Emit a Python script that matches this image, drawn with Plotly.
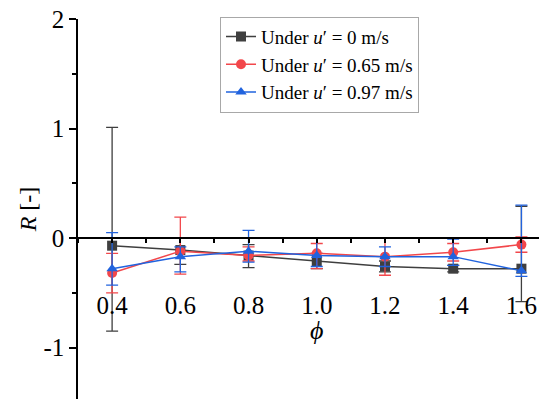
import plotly.graph_objects as go

phi = [0.4, 0.6, 0.8, 1.0, 1.2, 1.4, 1.6]

# Under u' = 0 m/s
r0 = [-0.07, -0.11, -0.16, -0.21, -0.26, -0.28, -0.28]
r0_plus = [1.08, 0.11, 0.10, 0.07, 0.05, 0.03, 0.57]
r0_minus = [0.78, 0.13, 0.11, 0.07, 0.05, 0.03, 0.30]

# Under u' = 0.65 m/s
r1 = [-0.32, -0.12, -0.16, -0.14, -0.17, -0.13, -0.06]
r1_plus = [0.18, 0.31, 0.08, 0.09, 0.17, 0.08, 0.07]
r1_minus = [0.18, 0.21, 0.05, 0.14, 0.17, 0.08, 0.07]

# Under u' = 0.97 m/s
r2 = [-0.28, -0.17, -0.12, -0.16, -0.17, -0.17, -0.30]
r2_plus = [0.33, 0.09, 0.19, 0.16, 0.09, 0.16, 0.60]
r2_minus = [0.15, 0.14, 0.10, 0.10, 0.09, 0.08, 0.05]

names = ["Under <i>u</i>′ = 0 m/s", "Under <i>u</i>′ = 0.65 m/s", "Under <i>u</i>′ = 0.97 m/s"]
colors = ["#3f3f3f", "#f2474b", "#2163de"]
symbols = ["square", "circle", "triangle-up"]

FONT = "Liberation Serif"

fig = go.Figure()
for y, ep, em, name, c, s in zip([r0, r1, r2], [r0_plus, r1_plus, r2_plus],
                                  [r0_minus, r1_minus, r2_minus], names, colors, symbols):
    fig.add_trace(go.Scatter(
        x=phi, y=y, name=name, mode="lines+markers",
        line=dict(color=c, width=1.5),
        marker=dict(symbol=s, size=10, color=c),
        error_y=dict(type="data", symmetric=False, array=ep, arrayminus=em,
                     color=c, thickness=1.3, width=6),
    ))

# page body adds an 8 px offset, so the figure is 8 px smaller and shifted
ymin, ymax = -1.47, 2.0
fig.update_layout(
    width=539, height=391,
    margin=dict(l=70, r=0, t=11, b=0, autoexpand=False),
    paper_bgcolor="white", plot_bgcolor="white",
    font=dict(family=FONT, color="black"),
    showlegend=True,
    legend=dict(x=(220 - 78) / 469, y=1.006, xanchor="left", yanchor="top",
                bgcolor="white", bordercolor="#a8a8a8", borderwidth=1,
                font=dict(family=FONT, size=19, color="black"),
                tracegroupgap=0, itemwidth=30),
    xaxis=dict(range=[0.3, 1.675], anchor="free", position=(0 - ymin) / (ymax - ymin),
               automargin=False, ticklabeloverflow="allow",
               showline=True, linecolor="black", linewidth=1.5,
               showgrid=False, zeroline=False,
               tickmode="linear", tick0=0.4, dtick=0.2, tickformat=".1f",
               ticks="outside", ticklen=4, tickcolor="black", tickwidth=1.5,
               ticklabelstandoff=41,
               minor=dict(dtick=0.1, tick0=0.3, ticks="outside", ticklen=4,
                          tickcolor="black", tickwidth=1.5),
               tickfont=dict(family=FONT, size=25, color="black")),
    yaxis=dict(range=[ymin, ymax], automargin=False, ticklabeloverflow="allow",
               showline=True, linecolor="black", linewidth=1.5,
               showgrid=False, zeroline=False,
               tickmode="array", tickvals=[-1, 0, 1, 2], ticktext=["-1", "0", "1", "2"],
               ticks="outside", ticklen=7, tickcolor="black", tickwidth=1.5,
               minor=dict(tickvals=[-1.5, -0.5, 0.5, 1.5], ticks="outside", ticklen=4,
                          tickcolor="black", tickwidth=1.5),
               tickfont=dict(family=FONT, size=25, color="black"),
               title=dict(text="<i>R</i> [-]", font=dict(family=FONT, size=24, color="black"),
                          standoff=0)),
)
fig.add_annotation(x=1.0, y=-0.84, xref="x", yref="y", text="<i>ϕ</i>", showarrow=False,
                   font=dict(family=FONT, size=26, color="black"))

fig.write_html("out.html")
